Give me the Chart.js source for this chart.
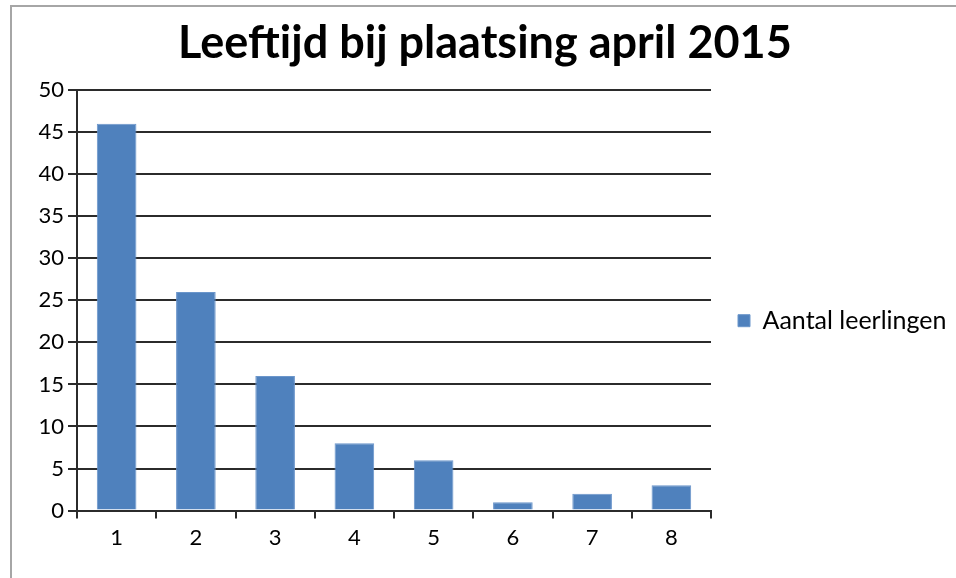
<!DOCTYPE html>
<html>
<head>
<meta charset="utf-8">
<script src="https://cdn.jsdelivr.net/npm/chart.js@4/dist/chart.umd.min.js"></script>
<style>
  html, body { margin: 0; padding: 0; background: #fff; }
  #wrap { position: relative; width: 956px; height: 578px; overflow: hidden; }
  #frame {
    position: absolute; left: 10px; top: 5px; right: -10px; bottom: -10px;
    border-left: 2px solid #a6a6a6; border-top: 2px solid #a6a6a6;
  }
  canvas { position: absolute; left: 0; top: 0; }
</style>
</head>
<body>
<div id="wrap">
  <div id="frame"></div>
  <canvas id="chart" width="956" height="578"></canvas>
</div>
<script>
let categories = ["1", "2", "3", "4", "5", "6", "7", "8"];
let leerlingen = [46, 26, 16, 8, 6, 1, 2, 3];
let seriesLabel = "Aantal leerlingen";
let titleText = "  Leeftijd bij plaatsing april 2015";

let font = "Lato, 'Open Sans', sans-serif";
let lineColor = "#2b2b2b";

new Chart(document.getElementById("chart"), {
  type: "bar",
  data: {
    labels: categories,
    datasets: [{
      label: seriesLabel,
      data: leerlingen,
      backgroundColor: "#4f81bd",
      borderColor: "#6b96cb",
      borderWidth: 1,
      barPercentage: 0.5,
      categoryPercentage: 1.0
    }]
  },
  options: {
    responsive: false,
    animation: false,
    layout: { padding: { left: 0, right: 8, top: 0, bottom: 21 } },
    plugins: {
      title: {
        display: true,
        text: titleText,
        color: "#000",
        font: { family: font, size: 45, weight: "bold" },
        padding: { top: 16, bottom: 20 }
      },
      legend: {
        position: "right",
        title: {
          display: true,
          text: " ",
          font: { size: 12 },
          padding: { top: 0, bottom: 70 }
        },
        labels: {
          color: "#000",
          font: { family: font, size: 25 },
          boxWidth: 12,
          boxHeight: 12,
          padding: 27
        }
      },
      tooltip: { enabled: false }
    },
    scales: {
      x: {
        grid: {
          offset: true,
          drawOnChartArea: false,
          color: lineColor,
          lineWidth: 2,
          tickLength: 8
        },
        border: { color: lineColor, width: 2 },
        ticks: { color: "#000", font: { family: font, size: 22 }, padding: 6 }
      },
      y: {
        min: 0,
        max: 50,
        afterFit: s => { s.width = 77; },
        grid: { color: lineColor, lineWidth: 2, tickLength: 9 },
        border: { color: lineColor, width: 2 },
        ticks: { stepSize: 5, color: "#000", font: { family: font, size: 22 }, padding: 4 }
      }
    }
  }
});
</script>
</body>
</html>
